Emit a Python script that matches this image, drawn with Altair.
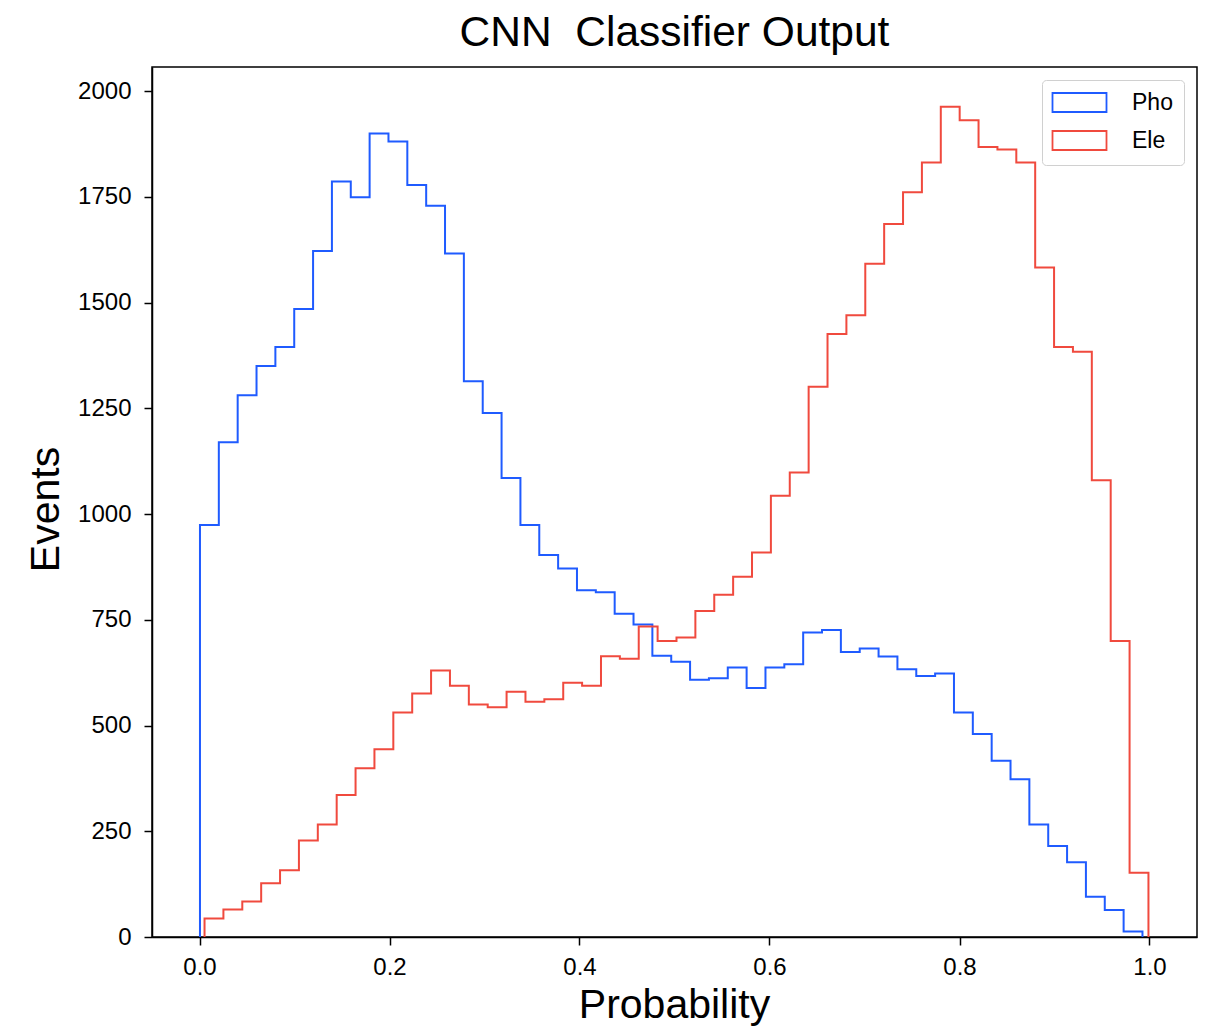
import altair as alt
import pandas as pd
import numpy as np

# ---- data (50 bins each) ----
pho_counts = [974, 1170, 1281, 1350, 1395, 1485, 1622, 1786, 1749, 1900,
              1881, 1778, 1729, 1616, 1314, 1239, 1085, 974, 903, 871,
              820, 815, 764, 739, 665, 651, 608, 612, 637, 589,
              637, 645, 720, 726, 674, 682, 663, 633, 617, 623,
              531, 480, 417, 373, 266, 215, 177, 95, 64, 13]
ele_counts = [44, 65, 84, 127, 158, 228, 266, 336, 399, 444,
              531, 576, 630, 594, 550, 543, 580, 556, 562, 601,
              594, 664, 658, 734, 700, 708, 771, 809, 852, 909,
              1043, 1098, 1301, 1426, 1470, 1592, 1686, 1761, 1831, 1963,
              1931, 1868, 1862, 1831, 1583, 1395, 1384, 1080, 700, 152]
pho_range = [0.0005, 0.9926]
ele_range = [0.0053, 0.9989]
series_names = ["Pho", "Ele"]
series_colors = ["#1f5bff", "#f04a3e"]
x_ticks = [0.0, 0.2, 0.4, 0.6, 0.8, 1.0]
y_ticks = [0, 250, 500, 750, 1000, 1250, 1500, 1750, 2000]


def step_rows(name, counts, rng):
    n = len(counts)
    edges = np.linspace(rng[0], rng[1], n + 1)
    rows = [{"series": name, "x": edges[0], "y": 0, "o": 0}]
    for i, c in enumerate(counts):
        rows.append({"series": name, "x": edges[i], "y": c, "o": i + 1})
    rows.append({"series": name, "x": edges[n], "y": counts[-1], "o": n + 1})
    rows.append({"series": name, "x": edges[n], "y": 0, "o": n + 2})
    return pd.DataFrame(rows)


pho_df = step_rows("Pho", pho_counts, pho_range)
ele_df = step_rows("Ele", ele_counts, ele_range)

FONT = "Liberation Sans"

color = alt.Color(
    "series:N",
    scale=alt.Scale(domain=series_names, range=series_colors),
    legend=alt.Legend(
        title=None,
        orient="top-right",
        offset=13,
        symbolType="M-2.7,-0.95L2.7,-0.95L2.7,0.95L-2.7,0.95Z",
        symbolSize=400,
        symbolOffset=15,
        symbolStrokeWidth=1.8,
        symbolFillColor="transparent",
        labelFontSize=23,
        labelFont=FONT,
        labelColor="black",
        labelOffset=41,
        rowPadding=11,
        padding=11,
        strokeColor="#d0d0d0",
        fillColor="white",
        cornerRadius=4,
    ),
)

x_enc = alt.X(
    "x:Q",
    scale=alt.Scale(domain=[-0.05, 1.05], nice=False, zero=False),
    axis=alt.Axis(values=x_ticks, format=".1f", title="Probability",
                  labelPadding=10,
                  titleX=522, titleY=80, titleBaseline="alphabetic",
                  titleAlign="center"),
)
y_enc = alt.Y(
    "y:Q",
    scale=alt.Scale(domain=[0, 2057], nice=False),
    axis=alt.Axis(values=y_ticks, format="d", title="Events",
                  labelPadding=13,
                  titleX=-94, titleY=442, titleBaseline="alphabetic",
                  titleAlign="center", titleAngle=-90),
)


def layer_for(df):
    return alt.Chart(df).mark_line(interpolate="step-after", strokeWidth=2).encode(
        x=x_enc, y=y_enc, color=color, order="o:Q"
    )


chart = alt.layer(layer_for(pho_df), layer_for(ele_df)).properties(
    width=1045,
    height=870,
    padding={"left": 152, "top": 67, "right": 14, "bottom": 94},
    autosize=alt.AutoSizeParams(type="none"),
    background="white",
    title=alt.TitleParams(
        text="CNN\u00a0 Classifier Output",
        font=FONT,
        fontSize=42.5,
        fontWeight="normal",
        color="black",
        anchor="middle",
        baseline="alphabetic",
        offset=17,
        dy=38,
    ),
).configure_view(
    stroke="black", strokeWidth=1.5
).configure_axis(
    grid=False,
    domainColor="black",
    domainWidth=1.5,
    tickColor="black",
    tickWidth=1.5,
    tickSize=8,
    labelFont=FONT,
    labelFontSize=24,
    labelColor="black",
    titleFont=FONT,
    titleFontSize=41,
    titleFontWeight="normal",
    titleColor="black",
)

chart.save("out.html", embed_options={"renderer": "svg", "actions": False})
